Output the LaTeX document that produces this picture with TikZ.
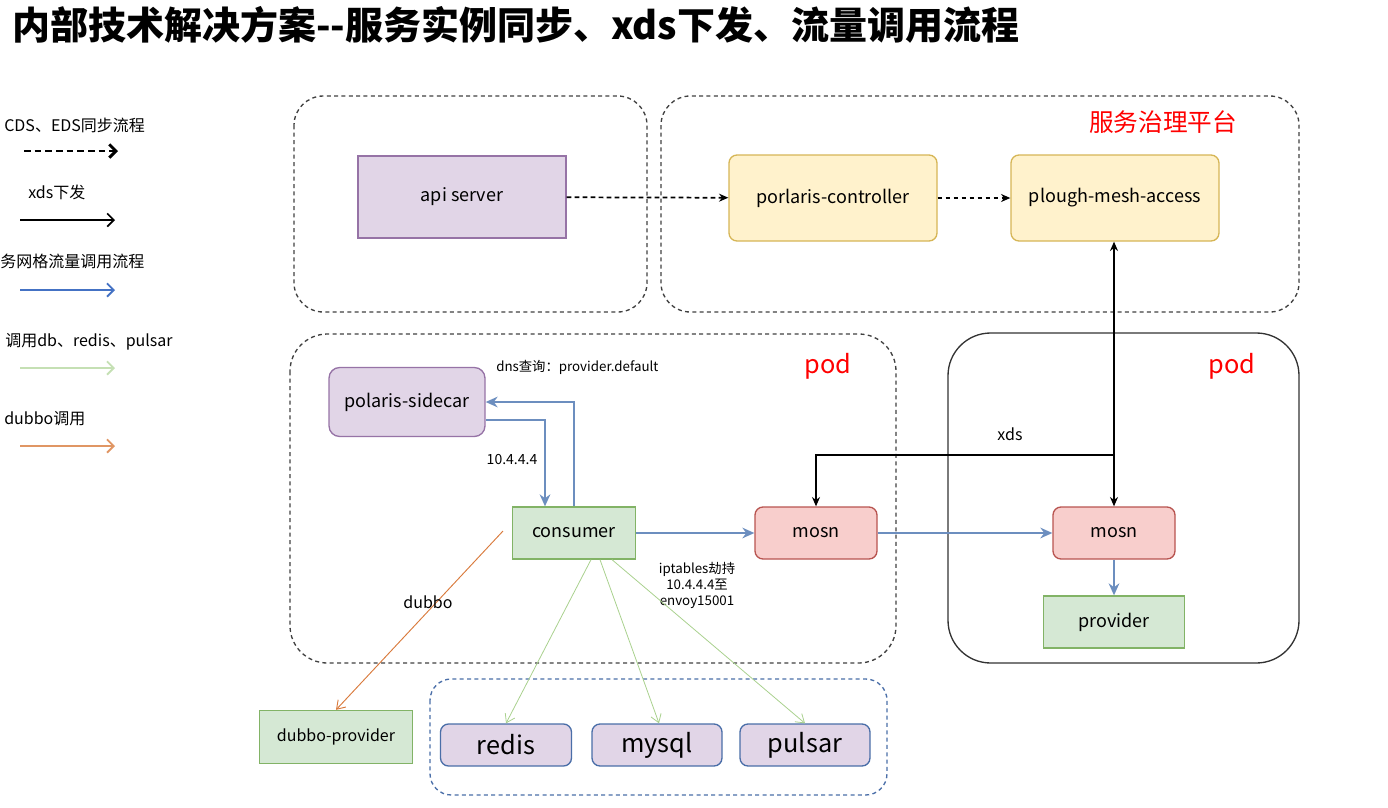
\documentclass[tikz,border=0pt]{standalone}
\usepackage{fontspec}
\setmainfont{Noto Sans CJK SC}
\usetikzlibrary{arrows.meta}
\newcommand{\px}{0.75pt}
\tikzset{
  box/.style={
    minimum width=#1,
    inner sep=0pt,
    line width=1pt,
    font=\fontsize{13.5}{15}\selectfont
  },
  box/.default={100pt},
  box-purple/.style={draw=boxpurpleline, fill=boxpurple},
  box-yellow/.style={draw=boxyellowline, fill=boxyellow, rounded corners=6pt},
  box-green/.style={draw=boxgreenline, fill=boxgreen},
  box-red/.style={draw=boxredline, fill=boxred, rounded corners=6pt},
  box-db/.style={draw=dbline, fill=boxpurple, rounded corners=6pt, font=\fontsize{19}{21}\selectfont},
  group-dash/.style={draw=black!75, dashed, dash pattern=on 3pt off 2.5pt, line width=1pt},
  group-solid/.style={draw=black!80, line width=1pt},
  flow-sync/.style={line width=1.3pt, dash pattern=on 3.5pt off 2.5pt, -{Stealth[length=7pt,width=6pt]}},
  flow-xds/.style={black, line width=1.2pt, -{Stealth[length=7pt,width=6pt]}},
  flow-mesh/.style={draw=meshblue, line width=1.3pt, -{Stealth[length=9pt,width=8pt]}},
  flow-db/.style={draw=dbgreen, line width=0.6pt, -{Straight Barb[length=6pt,width=8pt]}},
  flow-dubbo/.style={draw=dubboorange, line width=0.7pt, -{Straight Barb[length=6pt,width=8pt]}},
  lab/.style={font=\fontsize{12}{14}\selectfont, inner sep=0pt},
  lab-small/.style={font=\fontsize{10}{12}\selectfont, inner sep=0pt},
  lab-red/.style={text=red, font=\fontsize{19}{21}\selectfont, inner sep=0pt}
}
\definecolor{boxpurple}{RGB}{225,213,231}
\definecolor{boxpurpleline}{RGB}{150,115,166}
\definecolor{boxyellow}{RGB}{255,242,204}
\definecolor{boxyellowline}{RGB}{214,182,86}
\definecolor{boxgreen}{RGB}{213,232,212}
\definecolor{boxgreenline}{RGB}{130,179,102}
\definecolor{boxred}{RGB}{248,206,204}
\definecolor{boxredline}{RGB}{184,84,80}
\definecolor{dbline}{RGB}{74,110,168}
\definecolor{meshblue}{RGB}{108,142,191}
\definecolor{legendblue}{RGB}{68,114,196}
\definecolor{dbgreen}{RGB}{169,209,142}
\definecolor{legendgreen}{RGB}{197,224,180}
\definecolor{dubboorange}{RGB}{217,122,60}
\definecolor{legendorange}{RGB}{224,150,100}

\begin{document}
\begin{tikzpicture}[x=\px, y=-\px]
  \useasboundingbox (0,0) rectangle (1388,807);
  % Title
  \node[anchor=west, inner sep=0pt, font=\fontsize{28.5}{31}\selectfont\bfseries] (title) at (12,25)
    {内部技术解决方案-{}-服务实例同步、xds下发、流量调用流程};

  % Legend
  \node[lab, anchor=west] (lg-sync) at (4,125) {CDS、EDS同步流程};
  \coordinate (lg-sync-a) at (24,151);
  \coordinate (lg-sync-b) at (118,151);
  \draw[flow-sync, line width=2.2pt, dash pattern=on 5pt off 3pt, -{Straight Barb[length=5pt,width=10pt]}] (lg-sync-a) -- (lg-sync-b);
  \node[lab, anchor=west] (lg-xds) at (28,192) {xds下发};
  \coordinate (lg-xds-a) at (20,220);
  \coordinate (lg-xds-b) at (115,220);
  \draw[line width=1.2pt, -{Straight Barb[length=5pt,width=10pt]}] (lg-xds-a) -- (lg-xds-b);
  \node[lab, anchor=west] (lg-mesh) at (0,261) {务网格流量调用流程};
  \coordinate (lg-mesh-a) at (20,290);
  \coordinate (lg-mesh-b) at (115,290);
  \draw[legendblue, line width=1.4pt, -{Straight Barb[length=5pt,width=10pt]}] (lg-mesh-a) -- (lg-mesh-b);
  \node[lab, anchor=west] (lg-db) at (5,342) {调用db、redis、pulsar};
  \coordinate (lg-db-a) at (20,368);
  \coordinate (lg-db-b) at (115,368);
  \draw[legendgreen, line width=1.4pt, -{Straight Barb[length=5pt,width=10pt]}] (lg-db-a) -- (lg-db-b);
  \node[lab, anchor=west] (lg-dubbo) at (4,419) {dubbo调用};
  \coordinate (lg-dubbo-a) at (20,446);
  \coordinate (lg-dubbo-b) at (115,446);
  \draw[legendorange, line width=1.4pt, -{Straight Barb[length=5pt,width=10pt]}] (lg-dubbo-a) -- (lg-dubbo-b);

  % Groups
  \draw[group-dash, rounded corners=22pt] (294,96) rectangle (647,312);
  \draw[group-dash, rounded corners=22pt] (661,96) rectangle (1299,312);
  \draw[group-dash, rounded corners=28pt] (290,334) rectangle (896,663);
  \draw[group-solid, rounded corners=32pt] (948,333) rectangle (1299,663);
  \draw[group-dash, draw=dbline, rounded corners=16pt] (430,679) rectangle (887,795);
  \node[lab-red, font=\fontsize{18.5}{20}\selectfont] (platform) at (1163,122) {服务治理平台};
  \node[lab-red] (pod-left) at (828,366) {pod};
  \node[lab-red] (pod-right) at (1232,366) {pod};

  % Nodes
  \node[box=208*\px, minimum height=82*\px, box-purple] (api) at (462,197) {api server};
  \node[box=208*\px, minimum height=86*\px, box-yellow] (ctrl) at (833,198) {porlaris-controller};
  \node[box=208*\px, minimum height=86*\px, box-yellow] (access) at (1115,198) {plough-mesh-access};
  \node[box=156*\px, minimum height=69*\px, box-purple, rounded corners=8pt] (sidecar) at (407,402) {polaris-sidecar};
  \node[box=123*\px, minimum height=52*\px, box-green] (consumer) at (574,533) {consumer};
  \node[box=122*\px, minimum height=52*\px, box-red] (mosn-left) at (816,533) {mosn};
  \node[box=122*\px, minimum height=52*\px, box-red] (mosn-right) at (1114,533) {mosn};
  \node[box=141*\px, minimum height=52*\px, box-green] (provider) at (1114,622) {provider};
  \node[box=153*\px, minimum height=53*\px, box-green, font=\fontsize{12}{14}\selectfont] (dubbo-provider) at (336,737) {dubbo-provider};
  \node[box=131*\px, minimum height=42*\px, box-db] (redis) at (506,745) {redis};
  \node[box=130*\px, minimum height=42*\px, box-db] (mysql) at (657,745) {mysql};
  \node[box=130*\px, minimum height=42*\px, box-db] (pulsar) at (805,745) {pulsar};

  % Edges
  \draw[flow-sync] (api) -- (ctrl);
  \draw[flow-sync] (ctrl) -- (access);
  \coordinate (xds-split) at (1114,455);
  \draw[flow-xds] (xds-split) -- (access.south -| xds-split);
  \draw[flow-xds] (xds-split) -- (mosn-right.north);
  \draw[flow-xds] (xds-split) -| (mosn-left.north);
  \node[lab] (xds-label) at (1010,434) {xds};
  \draw[flow-mesh] (consumer.north) |- (sidecar.east);
  \draw[flow-mesh] ([yshift=-18*\px]sidecar.east) -| ([xshift=-29*\px]consumer.north);
  \node[lab-small, font=\fontsize{10.5}{12}\selectfont] (ip-label) at (512,460) {10.4.4.4};
  \node[lab-small, anchor=west] (dns-label) at (496,367) {dns查询：provider.default};
  \draw[flow-mesh] (consumer) -- (mosn-left);
  \draw[flow-mesh] (mosn-left) -- (mosn-right);
  \draw[flow-mesh] (mosn-right) -- (provider);
  \node[lab-small, align=center] (iptables-label) at (697,585) {iptables劫持\\10.4.4.4至\\envoy15001};
  \draw[flow-db] ([xshift=17*\px]consumer.south) -- (redis.north);
  \draw[flow-db] ([xshift=26*\px]consumer.south) -- ([xshift=2*\px]mysql.north);
  \draw[flow-db] ([xshift=38*\px]consumer.south) -- (pulsar.north);
  \coordinate (dubbo-start) at (503,531);
  \draw[flow-dubbo] (dubbo-start) -- (dubbo-provider.north);
  \node[lab] (dubbo-label) at (428,602) {dubbo};
\end{tikzpicture}
\end{document}
